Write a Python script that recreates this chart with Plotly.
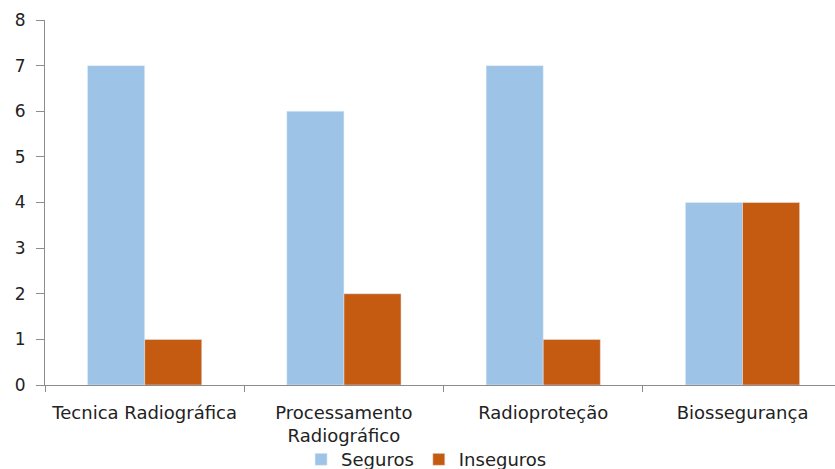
import plotly.graph_objects as go

categories = ["Tecnica Radiográfica", "Processamento<br>Radiográfico", "Radioproteção", "Biossegurança"]
seguros = [7, 6, 7, 4]
inseguros = [1, 2, 1, 4]
y_ticks = [0, 1, 2, 3, 4, 5, 6, 7, 8]

font_family = "DejaVu Sans, Open Sans, sans-serif"

fig = go.Figure()
fig.add_trace(go.Bar(name="Seguros", x=categories, y=seguros, marker_color="#9DC3E6"))
fig.add_trace(go.Bar(name="Inseguros", x=categories, y=inseguros, marker_color="#C55A11"))

fig.update_layout(
    width=835, height=469,
    margin=dict(l=45, r=0, t=20, b=84, autoexpand=False),
    paper_bgcolor="white", plot_bgcolor="white",
    barmode="group", bargap=0.427, bargroupgap=0,
    font=dict(family=font_family, size=17, color="#222222"),
    showlegend=True,
    legend=dict(orientation="h", x=0.483, xanchor="center",
                yref="container", y=0.02, yanchor="middle",
                bgcolor="rgba(0,0,0,0)",
                font=dict(size=18, color="#222222"), itemwidth=30,
                tracegroupgap=0),
)
fig.update_xaxes(
    range=[-0.5, 3.464], showline=True, linecolor="#8c8c8c", linewidth=1,
    ticks="outside", tickson="boundaries", ticklen=6, tickcolor="#8c8c8c",
    showgrid=False, tickfont=dict(size=18), fixedrange=True,
    automargin=False, ticklabelstandoff=11,
)
fig.update_yaxes(
    range=[0, 8], tickvals=y_ticks, showline=True, linecolor="#8c8c8c", linewidth=1,
    ticks="outside", ticklen=8, tickcolor="#8c8c8c", showgrid=False, zeroline=False,
    tickfont=dict(size=17), fixedrange=True, automargin=False, ticklabelstandoff=7,
)

fig.write_html("out.html")
